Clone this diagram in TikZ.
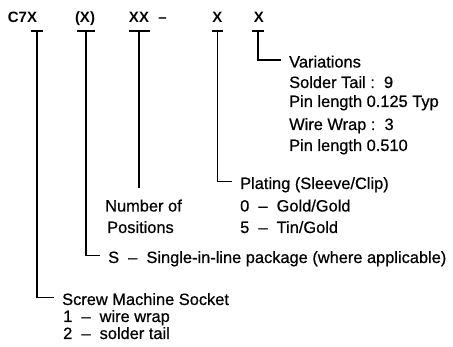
\documentclass[tikz,border=0pt]{standalone}
\usepackage{fontspec}
\setmainfont{Liberation Sans}
\newfontfamily\lblfont{Liberation Sans}[FakeBold=0.6]
\usetikzlibrary{arrows.meta}
\begin{document}
\begin{tikzpicture}[x=1pt,y=-1pt,
  lbl/.style={anchor=base west, inner xsep=8pt, inner ysep=0pt, text height=15pt, text depth=0pt, font=\lblfont\fontsize{16.4}{18}\selectfont},
  code/.style={anchor=base, inner sep=0pt, font=\fontsize{15}{18}\selectfont\bfseries},
  lead/.style={line width=1.9pt, line join=miter}]
\useasboundingbox (0,0) rectangle (453,347);
% code letters
\node[code] (c7x) at (22.5,23) {C7X};
\node[code] (opt) at (85,23) {(X)};
\node[code] (pos) at (139,23) {XX};
\node[code] (dash) at (162.5,23) {–};
\node[code] (plt) at (217.5,23) {X};
\node[code] (var) at (259,23) {X};
% variations
\node[lbl] (vh) at (281,67.5) {Variations};
\node[lbl] (v1) at (281,88) {Solder Tail :\ \ 9};
\node[lbl] (v2) at (281,107) {Pin length 0.125 Typ};
\node[lbl] (v3) at (281,130) {Wire Wrap :\ \ 3};
\node[lbl] (v4) at (281,151) {Pin length 0.510};
% plating
\node[lbl] (ph) at (232,189) {Plating (Sleeve/Clip)};
\node[lbl] (p1) at (232,211.5) {0\ \ –\ \ Gold/Gold};
\node[lbl] (p2) at (232,233) {5\ \ –\ \ Tin/Gold};
% positions
\node[lbl] (n1) at (97,211.5) {Number of};
\node[lbl] (n2) at (99,233) {Positions};
% single in line
\node[lbl] (sh) at (100,263) {S\ \ –\ \ Single-in-line package (where applicable)};
% socket
\node[lbl] (sc) at (54,305) {Screw Machine Socket};
\node[lbl] (s1) at (55,322) {1\ \ –\ \ wire wrap};
\node[lbl] (s2) at (55,339) {2\ \ –\ \ solder tail};
% tee points
\coordinate (c7xt) at (37,30);
\coordinate (optt) at (86,30);
\coordinate (post) at (139,30);
\coordinate (posend) at (139,188);
\coordinate (pltt) at (217.5,30);
\coordinate (vart) at (258,30);
% leaders
\draw[lead,{Bar[width=12pt]}-] (c7xt) |- (sc.west);
\draw[lead,{Bar[width=18pt]}-] (optt) |- (sh.west);
\draw[lead,{Bar[width=21pt]}-] (post) -- (posend);
\draw[lead,{Bar[width=11pt]}-] (pltt) |- (ph.west);
\draw[lead,{Bar[width=12pt]}-] (vart) |- (vh.west);
\end{tikzpicture}
\end{document}
